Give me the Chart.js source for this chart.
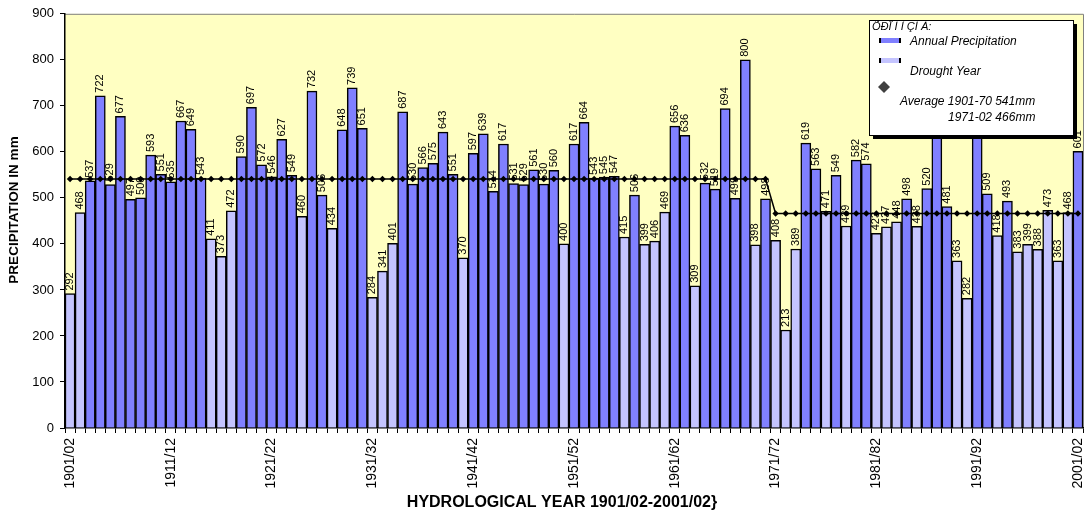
<!DOCTYPE html>
<html>
<head>
<meta charset="utf-8">
<script src="https://cdn.jsdelivr.net/npm/chart.js@4.4.1/dist/chart.umd.min.js"></script>
<style>
html, body { margin: 0; padding: 0; background: #fff; }
</style>
</head>
<body>
<canvas id="myChart" width="1088" height="525"></canvas>
<script>
// hydrological years
var years = [
  '1901/02','1902/03','1903/04','1904/05','1905/06','1906/07','1907/08','1908/09','1909/10','1910/11',
  '1911/12','1912/13','1913/14','1914/15','1915/16','1916/17','1917/18','1918/19','1919/20','1920/21',
  '1921/22','1922/23','1923/24','1924/25','1925/26','1926/27','1927/28','1928/29','1929/30','1930/31',
  '1931/32','1932/33','1933/34','1934/35','1935/36','1936/37','1937/38','1938/39','1939/40','1940/41',
  '1941/42','1942/43','1943/44','1944/45','1945/46','1946/47','1947/48','1948/49','1949/50','1950/51',
  '1951/52','1952/53','1953/54','1954/55','1955/56','1956/57','1957/58','1958/59','1959/60','1960/61',
  '1961/62','1962/63','1963/64','1964/65','1965/66','1966/67','1967/68','1968/69','1969/70','1970/71',
  '1971/72','1972/73','1973/74','1974/75','1975/76','1976/77','1977/78','1978/79','1979/80','1980/81',
  '1981/82','1982/83','1983/84','1984/85','1985/86','1986/87','1987/88','1988/89','1989/90','1990/91',
  '1991/92','1992/93','1993/94','1994/95','1995/96','1996/97','1997/98','1998/99','1999/00','2000/01',
  '2001/02'
];

// annual precipitation, mm
var precipitation = [
  292, 468, 537, 722, 529, 677, 497, 500, 593, 551,
  535, 667, 649, 543, 411, 373, 472, 590, 697, 572,
  546, 627, 549, 460, 732, 506, 434, 648, 739, 651,
  284, 341, 401, 687, 530, 566, 575, 643, 551, 370,
  597, 639, 514, 617, 531, 529, 561, 530, 560, 400,
  617, 664, 543, 545, 547, 415, 506, 399, 406, 469,
  656, 636, 309, 532, 519, 694, 499, 800, 398, 498,
  408, 213, 389, 619, 563, 471, 549, 439, 582, 574,
  423, 437, 448, 498, 438, 520, 650, 481, 363, 282,
  660, 509, 418, 493, 383, 399, 388, 473, 363, 468,
  601
];

// period averages (541mm 1901-70, 466mm 1971-02)
var average = [
  541, 541, 541, 541, 541, 541, 541, 541, 541, 541,
  541, 541, 541, 541, 541, 541, 541, 541, 541, 541,
  541, 541, 541, 541, 541, 541, 541, 541, 541, 541,
  541, 541, 541, 541, 541, 541, 541, 541, 541, 541,
  541, 541, 541, 541, 541, 541, 541, 541, 541, 541,
  541, 541, 541, 541, 541, 541, 541, 541, 541, 541,
  541, 541, 541, 541, 541, 541, 541, 541, 541, 541,
  466, 466, 466, 466, 466, 466, 466, 466, 466, 466,
  466, 466, 466, 466, 466, 466, 466, 466, 466, 466,
  466, 466, 466, 466, 466, 466, 466, 466, 466, 466,
  466
];

var droughtYears = ['1901/02','1902/03','1915/16','1916/17','1917/18','1924/25','1927/28',
  '1931/32','1932/33','1933/34','1940/41','1950/51','1956/57','1958/59','1959/60','1960/61',
  '1963/64','1969/70','1971/72','1972/73','1973/74','1976/77','1978/79','1981/82','1982/83',
  '1983/84','1985/86','1989/90','1990/91','1993/94','1995/96','1996/97','1997/98','1998/99',
  '1999/00','2000/01'];

var xTitle = 'HYDROLOGICAL YEAR 1901/02-2001/02}';
var yTitle = 'PRECIPITATION IN mm';
var legendTitle = 'ÕÐÏ Ì Í ÇÌ Á:';
var legendLabels = ['Annual Precipitation', 'Drought Year', 'Average 1901-70 541mm', '1971-02 466mm'];

var darkBlue = '#8080FF';
var lightBlue = '#C4C4FF';
var fontFamily = 'Arial, "Liberation Sans", sans-serif';

var annualVals = [], droughtVals = [];
for (var i = 0; i < years.length; i++) {
  if (droughtYears.indexOf(years[i]) >= 0) {
    annualVals.push(null);
    droughtVals.push(precipitation[i]);
  } else {
    annualVals.push(precipitation[i]);
    droughtVals.push(null);
  }
}

var plotBackground = {
  id: 'plotBackground',
  beforeDraw: function(chart) {
    var a = chart.chartArea, ctx = chart.ctx;
    ctx.save();
    ctx.fillStyle = '#FFFFC2';
    ctx.fillRect(a.left, a.top, a.right - a.left, a.bottom - a.top);
    ctx.strokeStyle = '#808080';
    ctx.lineWidth = 1;
    ctx.beginPath();
    ctx.moveTo(a.left, a.top + 0.5);
    ctx.lineTo(a.right + 0.5, a.top + 0.5);
    ctx.lineTo(a.right + 0.5, a.bottom);
    ctx.stroke();
    ctx.restore();
  }
};

// values written vertically above each bar
var barValues = {
  id: 'barValues',
  afterDatasetDraw: function(chart, args) {
    if (args.meta.type !== 'bar') return;
    var ctx = chart.ctx;
    var data = chart.data.datasets[args.index].data;
    ctx.save();
    ctx.font = '11px ' + fontFamily;
    ctx.fillStyle = '#000';
    ctx.textAlign = 'left';
    ctx.textBaseline = 'middle';
    args.meta.data.forEach(function(bar, i) {
      if (data[i] === null) return;
      ctx.save();
      ctx.translate(bar.x, bar.y - 3);
      ctx.rotate(-Math.PI / 2);
      ctx.fillText(String(data[i]), 0, 0);
      ctx.restore();
    });
    ctx.restore();
  }
};

// axis titles + boxed legend
var overlay = {
  id: 'overlay',
  afterDraw: function(chart) {
    var ctx = chart.ctx;
    ctx.save();
    ctx.fillStyle = '#000';
    ctx.textAlign = 'center';
    ctx.textBaseline = 'middle';
    ctx.font = 'bold 16px ' + fontFamily;
    ctx.fillText(xTitle, 562, 503);
    ctx.save();
    ctx.translate(14, 210);
    ctx.rotate(-Math.PI / 2);
    ctx.font = 'bold 13.5px ' + fontFamily;
    ctx.fillText(yTitle, 0, 0);
    ctx.restore();

    var x = 869, y = 20, w = 204, h = 115;
    ctx.fillStyle = '#000';
    ctx.fillRect(x + 4, y + 4, w, h);
    ctx.fillStyle = '#fff';
    ctx.fillRect(x, y, w, h);
    ctx.strokeStyle = '#000';
    ctx.lineWidth = 1;
    ctx.strokeRect(x + 0.5, y + 0.5, w, h);

    ctx.fillStyle = '#000';
    ctx.textAlign = 'left';
    ctx.font = 'italic 11px ' + fontFamily;
    ctx.fillText(legendTitle, 872, 27);

    // swatches
    [[darkBlue, 40], [lightBlue, 60]].forEach(function(s) {
      ctx.fillStyle = s[0];
      ctx.fillRect(880, s[1] - 2, 20, 5);
      ctx.fillStyle = '#000';
      ctx.fillRect(879, s[1] - 2, 2, 5);
      ctx.fillRect(899, s[1] - 2, 2, 5);
    });
    ctx.fillStyle = '#404040';
    ctx.beginPath();
    ctx.moveTo(884, 81);
    ctx.lineTo(890, 87);
    ctx.lineTo(884, 93);
    ctx.lineTo(878, 87);
    ctx.closePath();
    ctx.fill();

    ctx.fillStyle = '#000';
    ctx.font = 'italic 12px ' + fontFamily;
    ctx.fillText(legendLabels[0], 910, 42);
    ctx.fillText(legendLabels[1], 910, 72);
    ctx.fillText(legendLabels[2], 900, 102);
    ctx.fillText(legendLabels[3], 948, 118);
    ctx.restore();
  }
};

var ctx = document.getElementById('myChart').getContext('2d');
var myChart = new Chart(ctx, {
  type: 'bar',
  data: {
    labels: years,
    datasets: [{
      type: 'line',
      label: 'Average',
      data: average,
      borderColor: '#000',
      borderWidth: 1.5,
      pointStyle: 'rectRot',
      pointRadius: 3.2,
      pointBackgroundColor: '#000',
      pointBorderColor: '#000',
      pointBorderWidth: 0,
      tension: 0,
      fill: false,
      order: 0
    }, {
      label: 'Annual Precipitation',
      data: annualVals,
      backgroundColor: darkBlue,
      borderColor: '#000',
      borderWidth: 1.5,
      barPercentage: 1,
      categoryPercentage: 1,
      order: 1
    }, {
      label: 'Drought Year',
      data: droughtVals,
      backgroundColor: lightBlue,
      borderColor: '#000',
      borderWidth: 1.5,
      barPercentage: 1,
      categoryPercentage: 1,
      order: 1
    }]
  },
  options: {
    responsive: false,
    animation: false,
    layout: { padding: { left: 2, right: 5, top: 11, bottom: 8 } },
    plugins: {
      legend: { display: false },
      tooltip: { enabled: false }
    },
    scales: {
      x: {
        stacked: true,
        grid: { drawOnChartArea: false, color: '#000', tickLength: 5, lineWidth: 1 },
        border: { color: '#000', width: 1.5 },
        ticks: {
          autoSkip: false,
          maxRotation: 90,
          minRotation: 90,
          padding: 5,
          color: '#000',
          font: { family: fontFamily, size: 14 },
          callback: function(v, i) { return i % 10 === 0 ? years[i] : ''; }
        },
        afterFit: function(scale) {
          scale.height = 89;
          scale.paddingLeft = 0;
          scale.paddingRight = 0;
        }
      },
      y: {
        stacked: true,
        min: 0,
        max: 900,
        grid: { drawOnChartArea: false, color: '#000', tickLength: 5, lineWidth: 1 },
        border: { color: '#000', width: 1.5 },
        ticks: {
          stepSize: 100,
          padding: 6,
          color: '#000',
          font: { family: fontFamily, size: 13 }
        },
        afterFit: function(scale) { scale.width = 63; }
      }
    }
  },
  plugins: [plotBackground, barValues, overlay]
});
</script>
</body>
</html>
